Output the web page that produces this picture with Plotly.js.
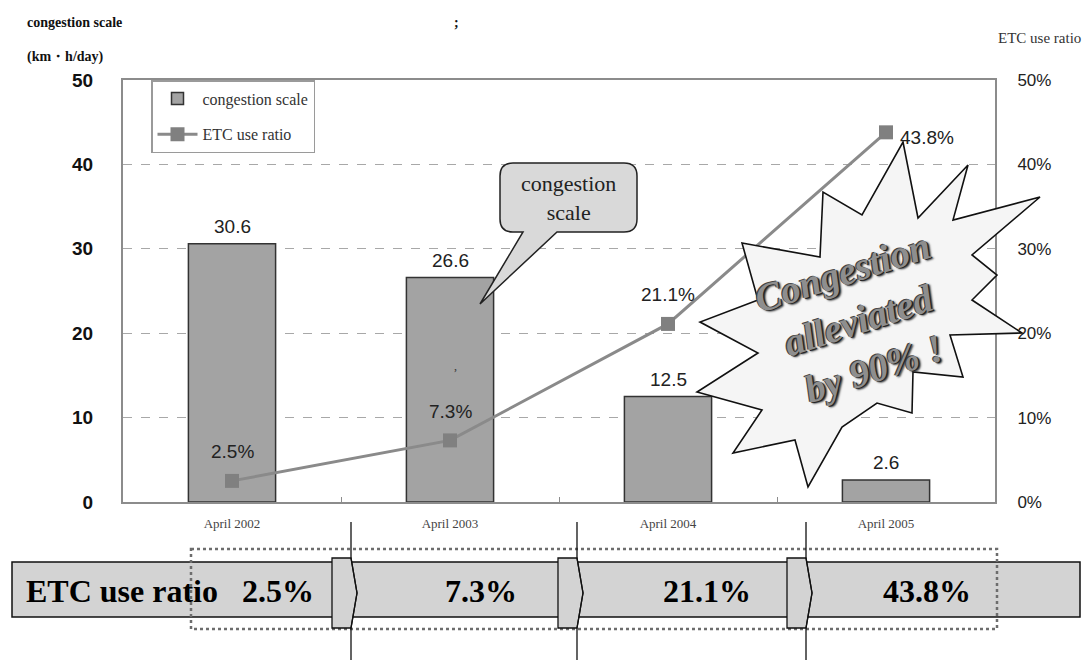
<!DOCTYPE html>
<html>
<head>
<meta charset="utf-8">
<script src="https://cdn.plot.ly/plotly-3.0.1.min.js"></script>
<style>
  html, body { margin: 0; padding: 0; background: #fff; }
  #chart { width: 1085px; height: 660px; }
</style>
</head>
<body>
<div id="chart"></div>
<script>
// ---- data ----
const categories = ['April 2002', 'April 2003', 'April 2004', 'April 2005'];
const congestionScale = [30.6, 26.6, 12.5, 2.6];      // km・h/day
const etcUseRatio = [0.025, 0.073, 0.211, 0.438];     // share of ETC use
const leftTicks = [0, 10, 20, 30, 40, 50];
const rightTicks = [0, 0.1, 0.2, 0.3, 0.4, 0.5];

// ---- fonts / colours ----
const SERIF = '"Liberation Serif", "Times New Roman", serif';
const SANS = '"Liberation Sans", Arial, sans-serif';
const INK = '#222';
const FRAME = '#8c8c8c';

// plot area in page pixels (used for decorative drawings)
const M = { l: 123, r: 90, t: 80, b: 158 };
const W = 1085, H = 660;
const PL = M.l, PR = W - M.r, PT = M.t, PB = H - M.b;
const px = x => (x - PL) / (PR - PL);
const py = y => (PB - y) / (PB - PT);

// build an SVG path in paper coordinates from page-pixel commands
function path(cmds) {
  return cmds.map(c => {
    const op = c[0];
    if (op === 'Z') return 'Z';
    const pts = c.slice(1).map(p => px(p[0]).toFixed(5) + ',' + py(p[1]).toFixed(5));
    return op + pts.join(' ');
  }).join(' ');
}
function poly(pts) {
  return path(pts.map((p, i) => [i ? 'L' : 'M', p]).concat([['Z']]));
}

const pct = v => (v * 100).toFixed(1) + '%';

// ---- traces ----
const bars = {
  type: 'bar',
  name: 'congestion scale',
  legendgroup: 'a',
  x: categories,
  y: congestionScale,
  marker: { color: '#a3a3a3', line: { color: '#333', width: 1.5 } },
  hoverinfo: 'skip'
};
const ratioLine = {
  type: 'scatter',
  mode: 'lines+markers',
  name: 'ETC use ratio',
  legendgroup: 'b',
  x: categories,
  y: etcUseRatio,
  yaxis: 'y2',
  line: { color: '#8a8a8a', width: 3 },
  marker: { symbol: 'square', size: 14, color: '#808080' },
  hoverinfo: 'skip'
};

// ---- annotations ----
const annotations = [];

// bar values
congestionScale.forEach((v, i) => {
  annotations.push({
    x: categories[i], y: v, xref: 'x', yref: 'y',
    text: v.toFixed(1), showarrow: false, yanchor: 'bottom', yshift: 5,
    font: { family: SANS, size: 19, color: INK }
  });
});
// line values
etcUseRatio.forEach((v, i) => {
  const last = i === etcUseRatio.length - 1;
  annotations.push({
    x: categories[i], y: v, xref: 'x', yref: 'y2',
    text: pct(v), showarrow: false,
    xanchor: last ? 'left' : 'center', yanchor: 'middle',
    xshift: last ? 12 : 0, yshift: last ? -5 : 29,
    font: { family: SANS, size: 19, color: INK }
  });
});

// header labels
annotations.push(
  { xref: 'paper', yref: 'paper', x: px(25), y: py(22), xanchor: 'left', yanchor: 'middle',
    text: 'congestion scale', showarrow: false,
    font: { family: SERIF, size: 14, color: '#111', weight: 'bold' } },
  { xref: 'paper', yref: 'paper', x: px(25), y: py(57), xanchor: 'left', yanchor: 'middle',
    text: '(km・h/day)', showarrow: false,
    font: { family: SERIF, size: 14, color: '#111', weight: 'bold' } },
  { xref: 'paper', yref: 'paper', x: px(456), y: py(22), xanchor: 'center', yanchor: 'middle',
    text: ';', showarrow: false, font: { family: SERIF, size: 14, color: '#111', weight: 'bold' } },
  { xref: 'paper', yref: 'paper', x: px(1083), y: py(38), xanchor: 'right', yanchor: 'middle',
    text: 'ETC use ratio', showarrow: false, font: { family: SERIF, size: 15, color: '#333' } },
  { xref: 'paper', yref: 'paper', x: px(455), y: py(366), xanchor: 'center', yanchor: 'middle',
    text: ',', showarrow: false, font: { family: SERIF, size: 12, color: '#333' } }
);

// callout text
annotations.push({
  xref: 'paper', yref: 'paper', x: px(568), y: py(198), xanchor: 'center', yanchor: 'middle',
  text: 'congestion<br>scale', showarrow: false,
  font: { family: SERIF, size: 22, color: INK }
});

// starburst text
annotations.push({
  xref: 'paper', yref: 'paper', x: px(858), y: py(320), xanchor: 'center', yanchor: 'middle',
  text: 'Congestion<br>alleviated<br>by 90% !', showarrow: false, textangle: -18,
  font: { family: SERIF, size: 39, color: '#8e8e8e', weight: 'bold', style: 'italic',
          shadow: '1px 1px 0 #222, -1px -1px 0 #444, 2px 2px 2px #333' }
});

// ETC banner text
const bannerX = [278, 481, 707, 927];
annotations.push({
  xref: 'paper', yref: 'paper', x: px(24), y: py(591), xanchor: 'left', yanchor: 'middle',
  text: 'ETC use ratio', showarrow: false,
  font: { family: SERIF, size: 32, color: '#000', weight: 'bold' }
});
etcUseRatio.forEach((v, i) => {
  annotations.push({
    xref: 'paper', yref: 'paper', x: px(bannerX[i]), y: py(591), xanchor: 'center', yanchor: 'middle',
    text: pct(v), showarrow: false,
    font: { family: SERIF, size: 32, color: '#000', weight: 'bold' }
  });
});

// ---- shapes ----
const shapes = [];

// speech bubble pointing at the second bar
shapes.push({
  type: 'path', xref: 'paper', yref: 'paper', layer: 'above',
  path: path([
    ['M', [513, 163]], ['L', [624, 163]], ['Q', [637, 163], [637, 176]],
    ['L', [637, 219]], ['Q', [637, 232], [624, 232]],
    ['L', [557, 232]], ['L', [480, 304]], ['L', [523, 232]],
    ['L', [513, 232]], ['Q', [500, 232], [500, 219]],
    ['L', [500, 176]], ['Q', [500, 163], [513, 163]], ['Z']
  ]),
  fillcolor: '#d9d9d9', line: { color: '#222', width: 1.5 }
});

// starburst
const burst = [
  [903, 142], [918, 218], [968, 165], [953, 220], [1040, 197], [972, 255],
  [997, 275], [972, 300], [1022, 333], [950, 335], [963, 377], [913, 372],
  [912, 413], [877, 403], [842, 427], [808, 487], [795, 440], [733, 453],
  [762, 410], [697, 392], [758, 353], [700, 322], [758, 300], [742, 243],
  [820, 257], [823, 192], [862, 215]
];
shapes.push({
  type: 'path', xref: 'paper', yref: 'paper', layer: 'above',
  path: poly(burst), fillcolor: '#f5f5f5', line: { color: '#111', width: 1.6 }
});

// ETC banner: grey strip, dotted frame, chevron separators
shapes.push({
  type: 'rect', xref: 'paper', yref: 'paper',
  x0: px(12), x1: px(1080), y0: py(562), y1: py(617),
  fillcolor: '#d3d3d3', line: { color: '#111', width: 1.5 }
});
shapes.push({
  type: 'rect', xref: 'paper', yref: 'paper',
  x0: px(191), x1: px(997), y0: py(549), y1: py(629),
  fillcolor: 'rgba(0,0,0,0)', line: { color: '#6d6d6d', width: 2.5, dash: 'dot' }
});
[351, 577, 806].forEach(xl => {
  shapes.push({
    type: 'path', xref: 'paper', yref: 'paper',
    path: poly([[xl - 19, 558], [xl, 558], [xl + 6, 593], [xl, 628], [xl - 19, 628]]),
    fillcolor: '#d3d3d3', line: { color: '#111', width: 1.3 }
  });
  shapes.push({
    type: 'path', xref: 'paper', yref: 'paper',
    path: path([['M', [xl, 522]], ['L', [xl, 558]], ['L', [xl + 6, 593]], ['L', [xl, 628]], ['L', [xl, 660]]]),
    line: { color: '#111', width: 1.3 }
  });
});

// ---- layout ----
const layout = {
  width: W, height: H,
  margin: M,
  paper_bgcolor: '#fff', plot_bgcolor: '#fff',
  font: { family: SERIF, color: INK },
  showlegend: true,
  bargap: 0.6,
  legend: {
    x: px(151), y: 1, xanchor: 'left', yanchor: 'top',
    bgcolor: '#fff', bordercolor: '#9a9a9a', borderwidth: 1.5,
    font: { family: SERIF, size: 16, color: '#333' },
    traceorder: 'grouped', tracegroupgap: 12, itemwidth: 40, entrywidth: 170
  },
  xaxis: {
    type: 'category', range: [-0.5, 3.5],
    showline: true, linecolor: FRAME, linewidth: 2, mirror: true,
    ticks: 'inside', tickson: 'boundaries', ticklen: 5, tickcolor: FRAME,
    ticklabelstandoff: 8,
    tickfont: { family: SERIF, size: 13, color: '#444' },
    showgrid: false, zeroline: false, fixedrange: true
  },
  yaxis: {
    range: [0, 50], tickvals: leftTicks,
    showline: true, linecolor: FRAME, linewidth: 2,
    showgrid: true, gridcolor: '#a8a8a8', gridwidth: 1, griddash: 'dash',
    zeroline: false, ticks: '', ticklabelstandoff: 24,
    tickfont: { family: SANS, size: 19, color: '#111', weight: 'bold' },
    fixedrange: true
  },
  yaxis2: {
    overlaying: 'y', side: 'right', range: [0, 0.5], tickvals: rightTicks,
    tickformat: '.0%',
    showline: true, linecolor: FRAME, linewidth: 2,
    showgrid: false, zeroline: false, ticks: '', ticklabelstandoff: 17,
    tickfont: { family: SANS, size: 17, color: '#222' },
    fixedrange: true
  },
  annotations: annotations,
  shapes: shapes
};

Plotly.newPlot('chart', [bars, ratioLine], layout, { displayModeBar: false, staticPlot: true });
</script>
</body>
</html>
